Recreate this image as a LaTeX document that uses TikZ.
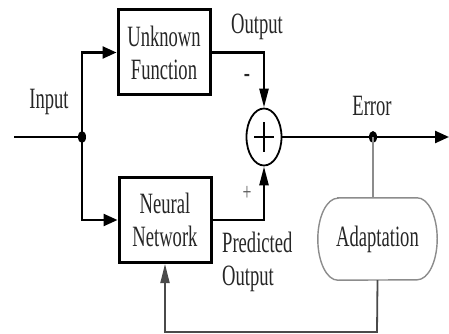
\documentclass[tikz,border=0pt]{standalone}
\usepackage{fontspec}
\newfontfamily\lblfont[FakeStretch=0.63]{Liberation Serif}
\usetikzlibrary{arrows.meta,shapes.geometric}
\definecolor{txt}{HTML}{262626}
\definecolor{fbgray}{HTML}{4A4A4A}
\definecolor{adgray}{HTML}{8C8C8C}
\tikzset{
  lbl/.style={font=\lblfont\fontsize{29.5}{33}\selectfont, text=txt, inner sep=0pt, align=center},
  blk/.style={draw=black, line width=3pt, minimum width=92pt, minimum height=85pt, inner sep=0pt, lbl},
  wire/.style={line width=2.4pt, black},
  htip/.style={-{Triangle[length=14pt,width=12pt]}},
  vtip/.style={-{Triangle[length=19pt,width=9pt]}},
  dotnode/.style={ellipse, fill=black, minimum width=8pt, minimum height=12pt, inner sep=0pt},
  fb/.style={line width=1.8pt, fbgray},
  adline/.style={line width=1.4pt, adgray},
}
\begin{document}
\begin{tikzpicture}[x=1pt,y=-1pt]
\useasboundingbox (0,0) rectangle (449,334);
% blocks
\node[blk] (uf) at (164,52.5) {Unknown\\Function};
\node[blk] (nn) at (165,220) {Neural\\Network};
\node[ellipse, draw=black, line width=1.8pt, minimum width=35pt, minimum height=57pt, inner sep=0pt] (sum) at (264,137) {};
\draw[line width=1.5pt] ([yshift=15pt]sum.center) -- ([yshift=-15pt]sum.center)
  ([xshift=-10pt]sum.center) -- ([xshift=10pt]sum.center);
\node[minimum width=119pt, minimum height=82pt, inner sep=0pt] (ad) at (377.5,239) {};
\draw[adline] ([xshift=20pt]ad.north west) -- ([xshift=-20pt]ad.north east)
  arc[start angle=90,end angle=-90,x radius=20pt,y radius=41pt]
  -- ([xshift=20pt]ad.south west)
  arc[start angle=270,end angle=90,x radius=20pt,y radius=41pt] -- cycle;
\node[lbl] (adt) at (ad.center) {Adaptation};
% junctions
\node[dotnode] (j1) at (82,137) {};
\node[dotnode] (j2) at (373,137) {};
\coordinate (inS) at (14,137);
\coordinate (outE) at (449,137);
\coordinate (fbB) at (377,332);
% labels
\node[lbl] (linput) at (49,102) {Input};
\node[lbl] (lout) at (257,27) {Output};
\node[lbl] (lminus) at (247,78) {-};
\node[lbl, font=\lblfont\fontsize{25}{27}\selectfont, text=black!65] (lplus) at (247,193) {+};
\node[lbl] (lerr) at (372,106) {Error};
\node[lbl, align=left, anchor=north west] (lpred) at (222,232) {Predicted\\Output};
% wires
\draw[wire] (inS) -- (j1.center);
\draw[wire, htip] (j1.center) |- (uf.west);
\draw[wire, htip] (j1.center) |- (nn.west);
\draw[wire, vtip] (uf.east) -| (sum.north);
\draw[wire, vtip] (nn.east) -| (sum.south);
\draw[wire] (sum.east) -- (j2.center);
\draw[wire, htip] (j2.center) -- (outE);
\draw[adline] (j2.center) -- (j2.center |- ad.north);
\draw[fb, vtip] (ad.south) -- (fbB) -| (nn.south);
\end{tikzpicture}
\end{document}
